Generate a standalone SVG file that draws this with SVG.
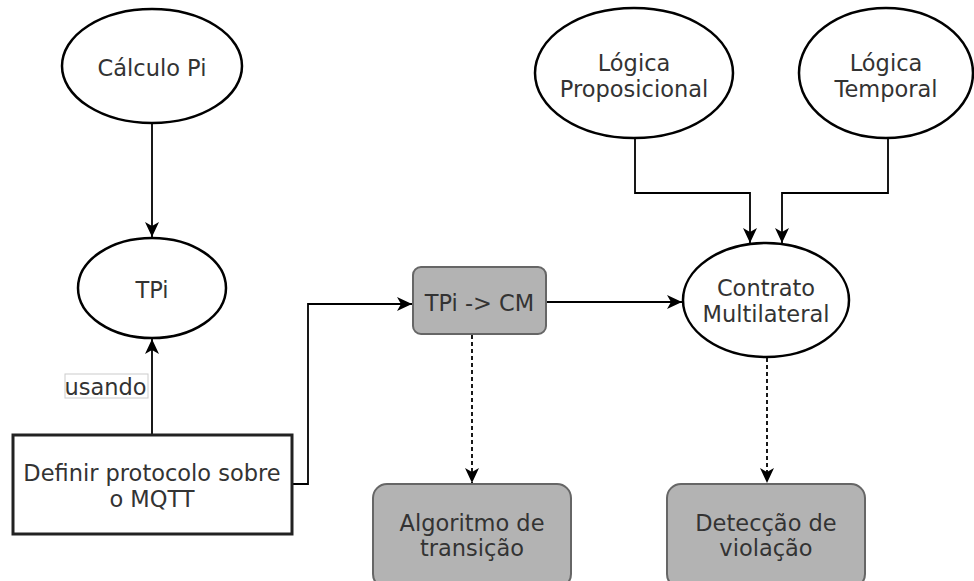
<svg xmlns="http://www.w3.org/2000/svg" width="974" height="581" viewBox="0 0 974 581">
<style>
.ell{fill:#fff;stroke:#000;stroke-width:2.5}
.gbox{fill:#b3b3b3;stroke:#666;stroke-width:2}
.wbox{fill:#fff;stroke:#222;stroke-width:3}
.t{font-family:"DejaVu Sans",Verdana,sans-serif;font-size:22.5px;fill:#333;text-anchor:middle;dominant-baseline:central}
.c{fill:none;stroke:#000;stroke-width:1.8}
.d{stroke-dasharray:4 3}
</style>
<defs>
<marker id="arr" markerUnits="userSpaceOnUse" markerWidth="16" markerHeight="14" viewBox="0 0 16 14" refX="15" refY="7" orient="auto">
<path d="M0,0 L15,7 L0,14 L4,7 z" fill="#000"/>
</marker>
</defs>
<rect width="974" height="581" fill="#fff"/>
<g id="connectors">
<path class="c" d="M152,124 V237" marker-end="url(#arr)"/>
<path class="c" d="M152,435 V339" marker-end="url(#arr)"/>
<path class="c" d="M293,484 H308 V304 H412" marker-end="url(#arr)"/>
<path class="c" d="M546,302 H682" marker-end="url(#arr)"/>
<path class="c d" d="M472,335 V483" marker-end="url(#arr)"/>
<path class="c d" d="M767,358 V483" marker-end="url(#arr)"/>
<path class="c" d="M635,138 V193 H750 V243" marker-end="url(#arr)"/>
<path class="c" d="M888,138 V193 H782 V243" marker-end="url(#arr)"/>
<g id="label-usando">
<rect x="65" y="374" width="83" height="24" fill="#fff" stroke="#ccc" stroke-width="1"/>
<text class="t" x="105.5" y="387">usando</text>
</g>
</g>
<g id="calculo-pi">
<ellipse class="ell" cx="152" cy="66" rx="90" ry="57"/>
<text class="t" x="152" y="68">Cálculo Pi</text>
</g>
<g id="tpi">
<ellipse class="ell" cx="152" cy="288" rx="74" ry="50"/>
<text class="t" x="152" y="290">TPi</text>
</g>
<g id="definir">
<rect class="wbox" x="13" y="435" width="279" height="99"/>
<text class="t" x="152" y="473">Definir protocolo sobre</text>
<text class="t" x="152" y="499">o MQTT</text>
</g>
<g id="tpi-cm">
<rect class="gbox" x="413" y="267" width="133" height="67" rx="8"/>
<text class="t" x="479.5" y="302.5">TPi -&gt; CM</text>
</g>
<g id="contrato">
<ellipse class="ell" cx="766" cy="300" rx="83" ry="57"/>
<text class="t" x="766" y="288">Contrato</text>
<text class="t" x="766" y="314">Multilateral</text>
</g>
<g id="logica-proposicional">
<ellipse class="ell" cx="634" cy="73" rx="99" ry="65"/>
<text class="t" x="634" y="63">Lógica</text>
<text class="t" x="634" y="89">Proposicional</text>
</g>
<g id="logica-temporal">
<ellipse class="ell" cx="886" cy="73" rx="87" ry="65"/>
<text class="t" x="886" y="63">Lógica</text>
<text class="t" x="886" y="89">Temporal</text>
</g>
<g id="algoritmo">
<rect class="gbox" x="373" y="484" width="198" height="104" rx="14"/>
<text class="t" x="472" y="522.5">Algoritmo de</text>
<text class="t" x="472" y="548">transição</text>
</g>
<g id="deteccao">
<rect class="gbox" x="667" y="484" width="198" height="104" rx="14"/>
<text class="t" x="766" y="522.5">Detecção de</text>
<text class="t" x="766" y="548">violação</text>
</g>
</svg>
